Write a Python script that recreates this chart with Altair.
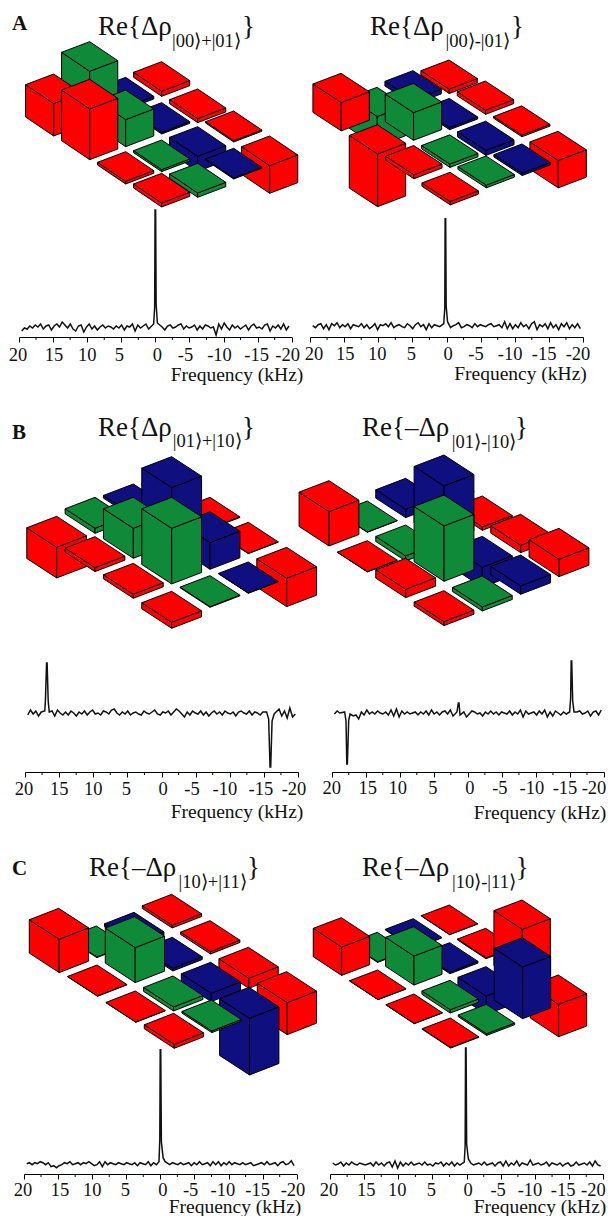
import altair as alt
import numpy as np

# ---------- data: bar tops and bar thicknesses (rows i, columns j) ----------
A1_TOP = [[0,-6,142,86],[-9,-9,70,143],[-2,-8,-7,-1],[-4,0,-4,7]]
A1_THK = [[15,8,152,97],[12,5,81,152],[4,45,6,8],[83,3,13,12]]
A2_TOP = [[0,9,0,83],[8,-3,83,0],[5,0,0,9],[0,3,8,0]]
A2_THK = [[13,14,90,85],[12,6,83,158],[5,15,10,12],[82,7,8,10]]
B1_TOP = [[0,9,13,0],[0,166,88,14],[0,76,163,9],[0,0,3,0]]
B1_THK = [[3,8,15,92],[2,166,90,12],[1,80,167,12],[85,1,2,18]]
B2_TOP = [[0,24,0,105],[2,169,3,0],[22,0,168,22],[55,19,0,0]]
B2_THK = [[3,25,1,103],[10,169,15,1],[22,60,166,25],[52,25,12,12]]
C1_TOP = [[0,-10,-7,90],[-4,-10,96,-5],[-9,-10,-7,-8],[-7,-10,-4,0]]
C1_THK = [[8,10,2,100],[7,8,105,1],[30,25,12,1],[96,170,5,12]]
C2_TOP = [[0,0,0,85],[2,0,89,0],[159,0,0,0],[6,159,0,0]]
C2_THK = [[1,2,2,85],[3,5,87,1],[165,55,10,1],[97,155,5,2]]
COLUMN_COLOURS = ["red", "blue", "green", "red"]

# ---------- data: spectra (noise, peaks) ----------
A1_NOISE = [-4,-1,-2,1,-1,2,0,3,-2,1,2,-3,1,3,0,5,2,-1,3,-2,-4,1,2,-5,0,3,-2,1,-3,0,2,-1,1,0,-2,1,-1,2,-3,1,0,3,-4,2,-1,1,3,-2,0,1,-1,2,0,-3,1,2,-1,0,2,3,-2,1,-1,0,2,-3,1,-2,2,1,-1,0,-8,3,-2,4,0,-3,2,-1,1,-2,0,2,-3,1,3,-1,0,-2,2,3,-4,1,-1,2,-2,3,-3,1]
A2_NOISE = [0,-2,1,2,-3,1,-4,2,0,3,-2,1,-1,2,-3,1,0,-1,2,-2,1,-3,-1,2,-4,1,0,2,-1,3,-2,0,1,-1,-2,2,0,-3,1,3,-1,1,-4,2,-2,1,0,-1,2,-1,1,-2,0,1,3,-2,-1,1,0,-2,2,-1,1,0,-1,1,2,-1,0,1,-2,4,-3,2,-3,1,-2,3,-1,1,-3,2,4,-4,1,-1,2,-3,3,-2,1,-4,2,-1,3,-3,1,-2,2,-3]
B1_NOISE = [-2,3,-1,2,-3,1,3,-2,0,2,-3,3,0,-2,1,-2,2,0,-3,1,-1,2,-2,1,3,-1,0,-2,2,1,-1,3,4,0,-2,1,-1,2,-2,0,1,-1,-2,2,0,-1,1,3,-1,-2,1,0,2,-2,1,4,2,-1,-4,1,-2,2,0,-1,2,-2,1,-3,0,2,-1,1,-2,2,0,-1,1,-3,1,2,0,-1,2,-2,1,0,-2,1,-4,-7,2,3,-2,4,-3,2,-5,5,-4,-1]
B2_NOISE = [-1,2,0,-2,3,-1,2,-3,-2,-6,1,-2,3,-1,1,-1,2,0,-1,1,-2,3,-3,4,-4,2,-1,1,-1,0,1,-2,1,-1,2,-2,3,-1,1,-2,1,2,-1,3,-3,1,4,-2,1,-4,-1,2,1,-1,0,-3,1,-1,2,-1,1,-2,1,0,-1,2,-2,1,-1,3,-4,2,-1,0,1,-2,2,-1,3,-4,1,-3,2,0,-2,1,-1,2,-1,-2,1,2,-1,0,2,-3,1,2,-2,3]
C1_NOISE = [0,1,-1,1,0,2,1,-1,1,-3,-2,-4,-2,-1,1,0,2,-1,0,1,-1,1,0,2,0,-2,-1,2,-3,2,-1,1,0,-1,1,0,-1,1,0,-1,1,-2,1,0,-1,2,-2,1,-1,0,1,-1,0,-1,1,0,-1,1,-1,0,1,-2,1,-1,2,-1,0,1,-2,2,-1,2,-2,1,-1,2,-1,1,0,-1,1,-1,0,1,-2,-1,0,1,-1,2,-1,0,1,-2,1,2,-1,0,3,-2]
C2_NOISE = [1,-1,0,2,-2,1,-1,2,0,-1,1,0,-1,0,1,-2,2,-1,1,-2,1,2,-3,3,-4,2,-2,1,-1,2,-1,0,1,-1,2,-1,0,-2,1,0,2,-2,1,-1,2,-2,1,-1,-3,2,-1,1,-1,0,1,-1,2,-1,0,1,-2,1,2,-2,3,-2,1,-1,3,-2,1,0,-1,4,-1,0,1,-1,0,2,-2,1,0,-1,1,-2,0,1,-2,-1,2,-1,0,1,-1,2,-2,3,-1,-2]

A1_PEAKS = [(0.25, 3), (0.1, 20), (0.04, 117), (-0.04, 117), (-0.12, 22), (-0.3, 4)]
A2_PEAKS = [(0.4, 2), (0.25, 18), (0.2, 107), (0.12, 107), (0.05, 20), (-0.15, 4)]
B1_PEAKS = [(17.1, 2), (17.0, 14), (16.84, 50), (16.76, 50), (16.6, 12), (16.45, 1),
            (-15.4, 1), (-15.7, -6), (-15.9, -54), (-16.0, -54), (-16.2, -8), (-16.5, -1)]
B2_PEAKS = [(18.1, 1), (17.9, -8), (17.78, -51), (17.7, -51), (17.5, -7), (17.3, -1),
            (1.6, 1), (1.4, 10), (1.3, 10), (1.15, -2),
            (-14.95, 1), (-15.1, 15), (-15.18, 52), (-15.26, 52), (-15.4, 12), (-15.6, 1)]
C1_PEAKS = [(0.2, 2), (0.08, 25), (0.02, 114), (-0.06, 114), (-0.15, 22), (-0.4, 6), (-0.7, 2)]
C2_PEAKS = [(0.35, 2), (0.22, 18), (0.16, 116), (0.08, 116), (0.0, 20), (-0.25, 5), (-0.6, 1)]

MAJOR = [20, 15, 10, 5, 0, -5, -10, -15, -20]
MINOR = [17.5, 12.5, 7.5, 2.5, -2.5, -7.5, -12.5, -17.5]
AXIS_TITLE = "Frequency (kHz)"

# ---------- layout ----------
FILL = {"red": "#ff0000", "green": "#0e8a38", "blue": "#0f0f80"}
SERIF = "Liberation Serif"
FIG_W_L, FIG_W_R = 300, 299
X_L, X_R = 8, 308
R1, S1, R3, S3, R5, S5 = 8, 205, 337, 650, 772, 1040
AX1, AX3, AX5 = 337, 772, 1174
CELL = 0.78
PX = 1 / 3
A1_SHIFT = [-1, 1, 0, -2, 2, -4, -4, -1, -4]
A2_SHIFT = [4, 1, -1, -1, 1.5, -4.6, -4.7, -4.8, -5]
B1_SHIFT = [-1, 0, 0, -1, 1.5, -3.6, -4.8, -3, -4]
B2_SHIFT = [0, 2, -2, -1, 2, -2, -4, -5, -10]
C1_SHIFT = [-1, 2, 0, -1, 2.4, -3.8, -5.6, -5, -3.7]
C2_SHIFT = [-1, 2, -1, -1, 1.5, -2.7, -5, -6, -10]


def faces(top, thk, ox, oy, U, V):
    out = []
    cells = sorted(((i, j) for i in range(4) for j in range(4)), key=lambda c: (c[0] + c[1], c[0]))
    u = (U[0] * CELL, U[1] * CELL)
    v = (V[0] * CELL, V[1] * CELL)
    for i, j in cells:
        tx = ox + (i * U[0] + j * V[0]) * PX
        ty = oy + (i * U[1] + j * V[1] - top[i][j]) * PX
        h = thk[i][j] * PX
        ux, uy, vx, vy = u[0] * PX, u[1] * PX, v[0] * PX, v[1] * PX
        T = (tx, ty)
        R = (tx + ux, ty + uy)
        L = (tx + vx, ty + vy)
        F = (tx + ux + vx, ty + uy + vy)
        polys = [
            [L, F, (F[0], F[1] + h), (L[0], L[1] + h)],
            [F, R, (R[0], R[1] + h), (F[0], F[1] + h)],
            [T, R, F, L],
        ]
        for p in polys:
            ring = [[round(a, 2), round(b, 2)] for a, b in p + [p[0]]]
            out.append({"type": "Feature",
                        "properties": {"colour": FILL[COLUMN_COLOURS[j]]},
                        "geometry": {"type": "Polygon", "coordinates": [ring]}})
    return out


def text_layer(string, x, y, size, weight="normal", align="left", baseline="alphabetic"):
    return alt.Chart(alt.Data(values=[{"t": string}])).mark_text(
        align=align, baseline=baseline, font=SERIF, fontSize=size, fontWeight=weight, color="#111111"
    ).encode(x=alt.value(x), y=alt.value(y), text="t:N")


def bars(top, thk, org, U, V, px0, py0, w, h, main, sub, brace, mx, sx, bx, my, sy, letter=None):
    ox, oy = org[0] - px0, org[1] - py0
    geo = alt.Chart(alt.Data(values=faces(top, thk, ox, oy, U, V))).mark_geoshape(
        stroke="black", strokeWidth=1, strokeJoin="miter", clip=False
    ).encode(fill=alt.Fill("properties.colour:N", scale=None, legend=None)
    ).project(type="identity", scale=1, translate=[0, 0])
    layers = [geo,
              text_layer(main, mx - px0, my - py0, 27),
              text_layer(sub, sx - px0, sy - py0, 18.5),
              text_layer(brace, bx - px0, my - py0, 27)]
    if letter:
        layers.append(text_layer(letter[0], letter[1] - px0, letter[2] - py0, 21, "bold"))
    return alt.layer(*layers).properties(width=w, height=h)


def spectrum(noise, peaks, shift, x0, x1, base, px0, py0, axis_y, w, label_y, title_x, title_y):
    grid = np.linspace(19.6, -19.6, len(noise))
    pts = [(float(f), float(a)) for f, a in zip(grid, noise)
           if not any(abs(f - p[0]) < 0.35 for p in peaks)]
    pts += [(float(f), float(a)) for f, a in peaks]
    pts.sort(key=lambda t: -t[0])
    vals = [{"f": f, "a": a} for f, a in pts]
    h = axis_y - py0
    b = base - py0
    k = (x1 - x0) / 40
    xs = alt.Scale(domain=[20, -20], range=[x0 - px0, x1 - px0], nice=False, zero=False)
    ys = alt.Scale(domain=[0, 100], range=[b, b - 100], nice=False, zero=False)
    axis = alt.Axis(values=MAJOR, title=None, grid=False, tickSize=5, tickColor="black", tickWidth=1,
                    domainColor="black", domainWidth=1, labels=False)
    line = alt.Chart(alt.Data(values=vals)).mark_line(color="#111111", strokeWidth=1.5, interpolate="linear").encode(
        x=alt.X("f:Q", scale=xs, axis=axis),
        y=alt.Y("a:Q", scale=ys, axis=None),
    )
    minor = alt.Chart(alt.Data(values=[{"m": m} for m in MINOR])).mark_rule(color="black", strokeWidth=1).encode(
        x=alt.X("m:Q", scale=xs, axis=axis),
        y=alt.value(h),
        y2=alt.value(h + 3),
    )
    label_rows = [{"p": v - n / k, "s": str(v)} for v, n in zip(MAJOR, shift)]
    labels = alt.Chart(alt.Data(values=label_rows)).mark_text(
        font=SERIF, fontSize=18.5, color="#111111", align="center", baseline="middle"
    ).encode(x=alt.X("p:Q", scale=xs, axis=axis), y=alt.value(label_y - py0), text="s:N")
    title = text_layer(AXIS_TITLE, title_x - px0, title_y - py0, 19.5, align="center", baseline="middle")
    return alt.layer(line, minor, labels, title).properties(width=w, height=h)


panels = [
    bars(A1_TOP, A1_THK, (485 / 3, 185 / 3), (108, 73), (-108, 41), X_L, R1, FIG_W_L, S1 - R1,
         "Re{\u0394\u03c1", "|00\u27e9+|01\u27e9", "}", 98, 172, 242, 35, 47, ("A", 12, 30)),
    bars(A2_TOP, A2_THK, (300 + 447 / 3, 180 / 3), (109, 71.3), (-108, 41), X_R, R1, FIG_W_R, S1 - R1,
         "Re{\u0394\u03c1", "|00\u27e9-|01\u27e9", "}", 370, 445.5, 511, 35, 47),
    spectrum(A1_NOISE, A1_PEAKS, A1_SHIFT, 19, 291.7, 327, X_L, S1, AX1, FIG_W_L, 355, 237, 375),
    spectrum(A2_NOISE, A2_PEAKS, A2_SHIFT, 310, 583, 325.7, X_R, S1, AX1, FIG_W_R, 354, 520.5, 374),
    bars(B1_TOP, B1_THK, (515 / 3, 410 + 187 / 3), (115, 75), (-115, 44), X_L, R3, FIG_W_L, S3 - R3,
         "Re{\u0394\u03c1", "|01\u27e9+|10\u27e9", "}", 98, 172.7, 242, 436, 447, ("B", 12, 439)),
    bars(B2_TOP, B2_THK, (295 + 447 / 3, 410 + 185 / 3), (115, 75), (-115, 44), X_R, R3, FIG_W_R, S3 - R3,
         "Re{\u2013\u0394\u03c1", "|01\u27e9-|10\u27e9", "}", 362, 451.7, 515, 436, 448),
    spectrum(B1_NOISE, B1_PEAKS, B1_SHIFT, 25, 298, 713, X_L, S3, AX3, FIG_W_L, 789, 237, 812),
    spectrum(B2_NOISE, B2_PEAKS, B2_SHIFT, 331.7, 604, 713, X_R, S3, AX3, FIG_W_R, 788, 540, 813),
    bars(C1_TOP, C1_THK, (515 / 3, 850 + 133 / 3), (115, 75), (-113, 44), X_L, R5, FIG_W_L, S5 - R5,
         "Re{\u2013\u0394\u03c1", "|10\u27e9+|11\u27e9", "}", 89, 178.5, 247, 876, 888, ("C", 12, 875)),
    bars(C2_TOP, C2_THK, (295 + 463 / 3, 850 + 165 / 3), (109, 72), (-108, 41), X_R, R5, FIG_W_R, S5 - R5,
         "Re{\u2013\u0394\u03c1", "|10\u27e9-|11\u27e9", "}", 362, 452, 515.7, 876, 888),
    spectrum(C1_NOISE, C1_PEAKS, C1_SHIFT, 24, 296.7, 1163.7, X_L, S5, AX5, FIG_W_L, 1189.5, 235, 1207),
    spectrum(C2_NOISE, C2_PEAKS, C2_SHIFT, 330, 603.3, 1164, X_R, S5, AX5, FIG_W_R, 1189.5, 540, 1207),
]

chart = alt.concat(*panels, columns=2, spacing=0, bounds="flush").properties(
    padding={"top": 0, "right": -1, "left": 0, "bottom": -1}, background="white"
).configure_view(stroke=None)

chart.save("out.html", embed_options={"renderer": "svg", "actions": False})
